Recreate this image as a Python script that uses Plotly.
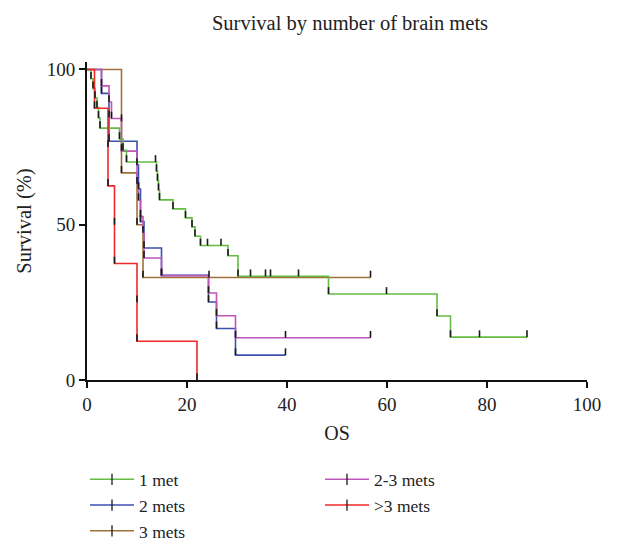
import plotly.graph_objects as go

# ---------------- data ----------------
groups = ["1 met", "2 mets", "3 mets", "2-3 mets", ">3 mets"]
colors = ["#66bb44", "#3c50b0", "#a0703c", "#c055b8", "#f02828"]

# step times (months) and survival (%) after each step
green_t = [0, 0.8, 1.2, 1.6, 2.0, 2.3, 2.6, 6.5, 7.2, 7.9, 13.9, 14.1, 14.3, 14.5,
           17.2, 19.7, 21.0, 21.6, 22.7, 28.2, 30.2, 48.3, 70.0, 72.7]
green_s = [100, 97.0, 93.9, 90.8, 87.7, 84.4, 81.1, 77.6, 74.0, 70.2, 67.2, 64.2, 61.1, 58.0,
           55.1, 52.2, 49.3, 46.3, 43.3, 40.0, 33.4, 27.7, 20.6, 13.8]
green_cens = [13.7, 24.1, 26.8, 32.7, 35.7, 36.7, 42.3, 59.9, 78.5, 88.0]
green_end = 88.0

blue_t = [0, 2.9, 4.4, 4.4, 10.0, 10.3, 10.7, 11.4, 14.9, 24.3, 25.9, 29.7]
blue_s = [100, 92.3, 84.6, 76.9, 69.2, 61.5, 51.0, 42.5, 33.7, 25.1, 16.6, 8.0]
blue_cens = [39.7]
blue_end = 39.7

brown_t = [0, 6.9, 6.9, 10.0, 11.2]
brown_s = [100, 83.3, 66.7, 50.0, 33.0]
brown_cens = [24.4, 56.7]
brown_end = 56.7

pink_t = [0, 2.9, 4.4, 4.9, 6.9, 10.0, 10.3, 10.7, 11.2, 11.4, 14.9, 24.3, 25.9, 29.7]
pink_s = [100, 94.7, 89.5, 84.2, 73.7, 63.2, 57.9, 52.6, 47.4, 39.3, 33.6, 28.0, 20.7, 13.6]
pink_cens = [39.7, 56.7]
pink_end = 56.7

red_t = [0, 1.5, 4.2, 4.2, 5.5, 5.5, 10.0, 10.0, 22.0]
red_s = [100, 87.5, 75.0, 62.5, 50.0, 37.5, 25.0, 12.5, 0]
red_cens = []
red_end = 22.0

x_ticks = [0, 20, 40, 60, 80, 100]
y_ticks = [0, 50, 100]

series = [
    (green_t, green_s, green_cens, green_end),
    (blue_t, blue_s, blue_cens, blue_end),
    (brown_t, brown_s, brown_cens, brown_end),
    (pink_t, pink_s, pink_cens, pink_end),
    (red_t, red_s, red_cens, red_end),
]

FONT = "Liberation Serif"
TICK_H = 2.2  # tick height in survival % units


def surv_at(t, times, surv):
    s = surv[0]
    for ti, si in zip(times, surv):
        if ti <= t:
            s = si
    return s


fig = go.Figure()

# draw order: put red on top, green above brown
order = [1, 2, 3, 0, 4]
tick_x, tick_y = [], []
for i in order:
    t, s, cens, end = series[i]
    xs = list(t) + [end]
    ys = list(s) + [s[-1]]
    fig.add_trace(go.Scatter(x=xs, y=ys, mode="lines", line=dict(color=colors[i], width=1.6, shape="hv"),
                             showlegend=False, hoverinfo="skip"))
    for ti, si in zip(t[1:], s[1:]):
        tick_x += [ti, ti, None]
        tick_y += [si, si + TICK_H, None]
    for c in cens:
        sc = surv_at(c, t, s)
        tick_x += [c, c, None]
        tick_y += [sc, sc + TICK_H, None]

fig.add_trace(go.Scatter(x=tick_x, y=tick_y, mode="lines", line=dict(color="#1a1a1a", width=1.6),
                         showlegend=False, hoverinfo="skip"))

# legend entries
legend_of = ["legend", "legend", "legend", "legend2", "legend2"]
for i, g in enumerate(groups):
    fig.add_trace(go.Scatter(x=[None], y=[None], mode="lines+markers", name=g,
                             line=dict(color=colors[i], width=1.6),
                             marker=dict(symbol="line-ns-open", size=8, color="#1a1a1a",
                                         line=dict(color="#1a1a1a", width=1.3)),
                             legend=legend_of[i], legendgroup=g))

leg_common = dict(font=dict(family=FONT, size=17.5, color="#222"), bgcolor="rgba(0,0,0,0)",
                  orientation="v", yanchor="top", xanchor="left", tracegroupgap=0,
                  itemwidth=44)

fig.update_layout(
    width=622, height=542,
    margin=dict(l=87, r=35, t=62, b=162, autoexpand=False),
    paper_bgcolor="white", plot_bgcolor="white",
    font=dict(family=FONT, size=19, color="#222"),
    title=dict(text="Survival by number of brain mets", x=0.526, xref="paper", xanchor="center",
               y=0.958, yref="container", yanchor="middle", font=dict(family=FONT, size=20.5, color="#222")),
    xaxis=dict(range=[0, 100], tickvals=x_ticks, ticks="outside", ticklen=6, tickwidth=1.5,
               tickcolor="#111", showline=True, linecolor="#111", linewidth=1.8, showgrid=False,
               zeroline=False, tickfont=dict(family=FONT, size=19, color="#222"),
               title=dict(text="OS", font=dict(family=FONT, size=20, color="#222"), standoff=12)),
    yaxis=dict(range=[0, 102.4], tickvals=y_ticks, ticks="outside", ticklen=6, tickwidth=1.5,
               tickcolor="#111", showline=True, linecolor="#111", linewidth=1.8, showgrid=False,
               zeroline=False, tickfont=dict(family=FONT, size=19, color="#222"),
               title=dict(text="Survival (%)", font=dict(family=FONT, size=20.5, color="#222"), standoff=10)),
    legend=dict(x=-0.004, y=-0.256, **leg_common),
    legend2=dict(x=0.466, y=-0.256, **leg_common),
)

fig.write_html("out.html")
